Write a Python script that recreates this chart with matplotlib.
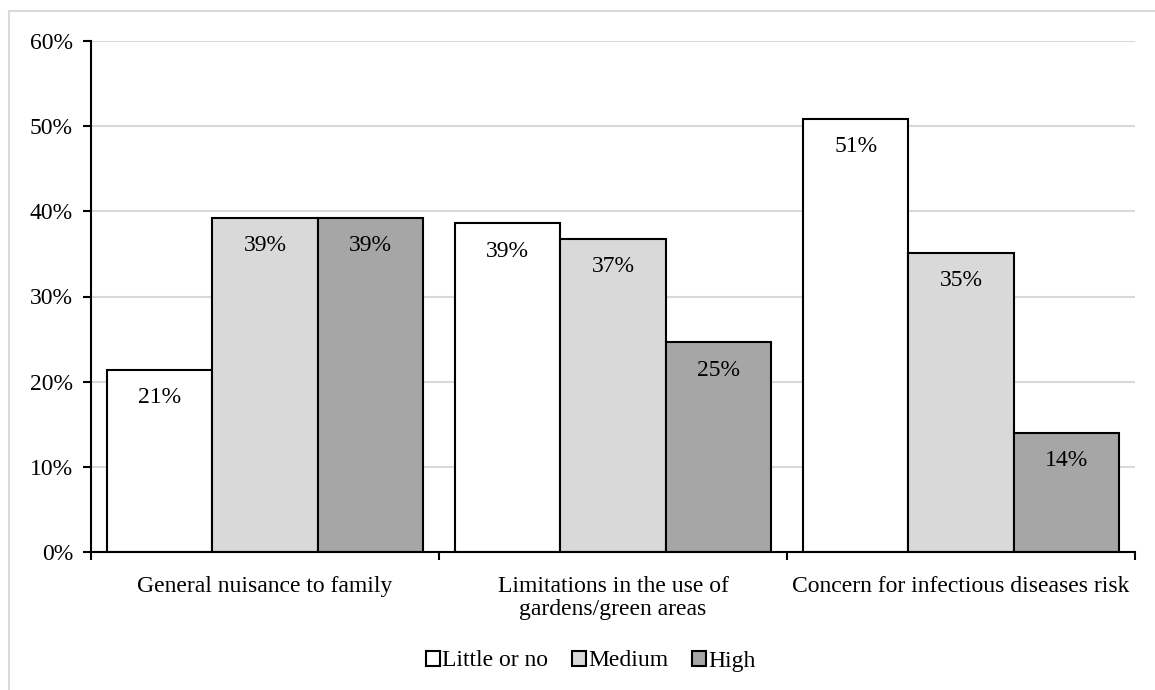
import matplotlib
matplotlib.use("Agg")
import matplotlib.pyplot as plt
from matplotlib.patches import Rectangle
import numpy as np

plt.rcParams['font.family'] = ['Liberation Serif', 'DejaVu Serif']

categories = ["General nuisance to family",
              "Limitations in the use of\ngardens/green areas",
              "Concern for infectious diseases risk"]
series_names = ["Little or no", "Medium", "High"]
little = [21.4, 38.6, 50.9]
medium = [39.2, 36.8, 35.1]
high = [39.2, 24.6, 14.0]
colors = ["#ffffff", "#d9d9d9", "#a6a6a6"]
yticks = [0, 10, 20, 30, 40, 50, 60]

FS = 17

fig = plt.figure(figsize=(11.55, 6.9), dpi=100)
fig.patches.append(Rectangle((9 / 1155, -0.05), 1.2, 1 - 11 / 690 + 0.05,
                             transform=fig.transFigure, fill=False,
                             edgecolor="#d9d9d9", linewidth=1.5))
ax = fig.add_axes([91 / 1155, 0.2, (1135 - 91) / 1155, (552 - 41) / 690])

x = np.arange(len(categories))
w = 0.3026
for i, (vals, name, c) in enumerate(zip([little, medium, high], series_names, colors)):
    bars = ax.bar(x + (i - 1) * w, vals, width=w, color=c, edgecolor="black",
                  linewidth=1.5, label=name, zorder=3)
    for b, v in zip(bars, vals):
        ax.annotate(f"{v:.0f}%", (b.get_x() + b.get_width() / 2, v),
                    xytext=(0, -20), textcoords="offset points",
                    ha="center", va="center", fontsize=FS, zorder=4)

ax.set_xlim(-0.5, 2.5)
ax.set_ylim(0, 60)
ax.set_yticks(yticks)
ax.set_yticklabels([f"{t}%" for t in yticks], fontsize=FS)
ax.yaxis.grid(True, color="#d9d9d9", linewidth=1.5, zorder=0)
ax.set_axisbelow(True)

ax.set_xticks([-0.5, 0.5, 1.5, 2.5])
ax.set_xticklabels([])
ax.set_xticks(x, minor=True)
ax.set_xticklabels(categories, minor=True, fontsize=FS, linespacing=1.15)
ax.tick_params(axis="x", which="major", length=6, width=1.5, direction="out")
ax.tick_params(axis="x", which="minor", length=0, pad=17)
ax.tick_params(axis="y", length=6, width=1.5, direction="out", pad=7)

for s in ["top", "right"]:
    ax.spines[s].set_visible(False)
for s in ["left", "bottom"]:
    ax.spines[s].set_linewidth(1.5)
    ax.spines[s].set_zorder(5)

fig.legend(loc="center", bbox_to_anchor=(591 / 1155, 1 - 661 / 690), ncol=3,
           frameon=False, fontsize=FS, handlelength=0.6, handleheight=0.6,
           handletextpad=0.1, columnspacing=1.0)

fig.savefig("out.png", dpi=100)
